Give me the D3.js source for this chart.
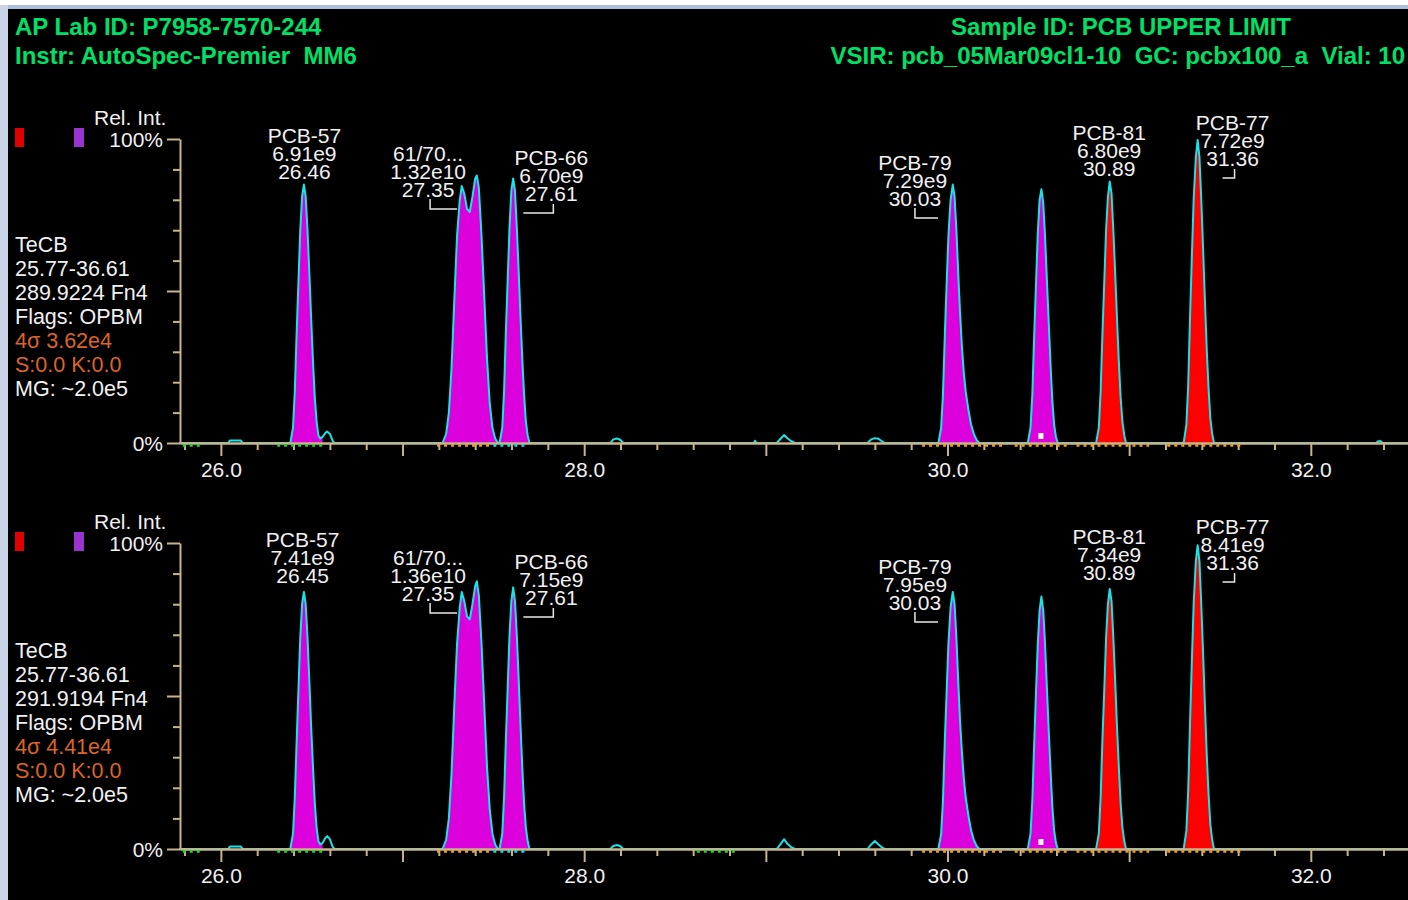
<!DOCTYPE html>
<html>
<head>
<meta charset="utf-8">
<script src="https://cdn.jsdelivr.net/npm/d3@7"></script>
<style>
body { margin: 0; background: #fff; overflow: hidden; }
svg { display: block; font-family: "Liberation Sans", Arial, sans-serif; }
text { white-space: pre; }
</style>
</head>
<body>
<div id="chart"></div>
<script>
const W = 1408, H = 900;

// header text
const headerLeft = ["AP Lab ID: P7958-7570-244", "Instr: AutoSpec-Premier  MM6"];
const headerRight = ["Sample ID: PCB UPPER LIMIT", "VSIR: pcb_05Mar09cl1-10  GC: pcbx100_a  Vial: 10"];

// side info for each trace
const infoTop = ["TeCB", "25.77-36.61", "289.9224 Fn4", "Flags: OPBM", "4σ 3.62e4", "S:0.0 K:0.0", "MG: ~2.0e5"];
const infoBottom = ["TeCB", "25.77-36.61", "291.9194 Fn4", "Flags: OPBM", "4σ 4.41e4", "S:0.0 K:0.0", "MG: ~2.0e5"];

// axis ticks
const xMajor = [26, 27, 28, 29, 30, 31, 32];
const xLabelVals = [26, 28, 30, 32];
const xLabels = ["26.0", "28.0", "30.0", "32.0"];
const yTickPct = [0, 10, 20, 30, 40, 50, 60, 70, 80, 90, 100];
const yLabelVals = [0, 100];
const yLabels = ["0%", "100%"];

// peak labels
const peakNames = ["PCB-57", "61/70...", "PCB-66", "PCB-79", "PCB-81", "PCB-77"];
const peakRtTop = [26.46, 27.35, 27.61, 30.03, 30.89, 31.36];
const peakAreaTop = ["6.91e9", "1.32e10", "6.70e9", "7.29e9", "6.80e9", "7.72e9"];
const peakRtBottom = [26.45, 27.35, 27.61, 30.03, 30.89, 31.36];
const peakAreaBottom = ["7.41e9", "1.36e10", "7.15e9", "7.95e9", "7.34e9", "8.41e9"];

// traces, [retention time (min), relative intensity %]
const traceTop = [
  [25.77, 0],
  [26.04, 0], [26.05, 0.8], [26.11, 0.8], [26.12, 0],
  [26.382, 0], [26.397, 5], [26.407, 17], [26.417, 36], [26.427, 53], [26.437, 70], [26.447, 81], [26.457, 85], [26.467, 81], [26.477, 70], [26.487, 56], [26.497, 41], [26.507, 27], [26.517, 15], [26.527, 7], [26.537, 2.5], [26.547, 1.5],
  [26.56, 2], [26.575, 3.3], [26.585, 3.8], [26.60, 3], [26.615, 0.8], [26.625, 0],
  [27.22, 0], [27.24, 3], [27.255, 10], [27.27, 25], [27.285, 47], [27.30, 68], [27.315, 80], [27.326, 84.5], [27.34, 82], [27.355, 77], [27.37, 76], [27.385, 81], [27.40, 87], [27.409, 88], [27.42, 84], [27.435, 68], [27.45, 48], [27.465, 28], [27.48, 13], [27.495, 5], [27.51, 1.5], [27.525, 0],
  [27.534, 0], [27.549, 5], [27.559, 17], [27.569, 37], [27.579, 54], [27.589, 71], [27.599, 83], [27.609, 87], [27.619, 83], [27.629, 71], [27.639, 57], [27.649, 42], [27.659, 28], [27.669, 16], [27.679, 7], [27.689, 2.5], [27.699, 0],
  [28.145, 0], [28.16, 1.2], [28.18, 1.5], [28.20, 1.0], [28.215, 0],
  [28.935, 0], [28.94, 0.7], [28.95, 0],
  [29.06, 0], [29.08, 1.3], [29.10, 2.6], [29.12, 1.5], [29.14, 0.6], [29.16, 0],
  [29.56, 0], [29.58, 1.2], [29.60, 1.6], [29.62, 1.4], [29.64, 0.5], [29.655, 0],
  [29.95, 0], [29.965, 5], [29.975, 16], [29.985, 35], [29.995, 52], [30.005, 68], [30.017, 80], [30.029, 85], [30.039, 81], [30.049, 70], [30.059, 56], [30.069, 43], [30.079, 32], [30.09, 23], [30.10, 17], [30.115, 11], [30.13, 6], [30.145, 3], [30.16, 1], [30.175, 0],
  [30.442, 0], [30.457, 5], [30.467, 16], [30.477, 35], [30.487, 52], [30.497, 69], [30.507, 80], [30.517, 83.5], [30.527, 79], [30.537, 68], [30.547, 54], [30.557, 40], [30.567, 26], [30.577, 14], [30.587, 6], [30.597, 2], [30.607, 0],
  [30.818, 0], [30.833, 5], [30.843, 17], [30.853, 36], [30.863, 53], [30.873, 70], [30.883, 81], [30.893, 86], [30.903, 82], [30.913, 70], [30.923, 56], [30.933, 41], [30.943, 27], [30.953, 15], [30.963, 7], [30.973, 2.5], [30.983, 0],
  [31.30, 0], [31.315, 6], [31.325, 19], [31.335, 41], [31.345, 61], [31.355, 80], [31.367, 94], [31.377, 99.7], [31.387, 94], [31.397, 80], [31.407, 64], [31.417, 47], [31.427, 31], [31.437, 18], [31.447, 8], [31.457, 3], [31.467, 0],
  [32.36, 0], [32.37, 0.6], [32.385, 0.6], [32.395, 0],
  [32.535, 0]
];

const traceBottom = [
  [25.77, 0],
  [26.04, 0], [26.05, 0.8], [26.11, 0.8], [26.12, 0],
  [26.382, 0], [26.397, 5], [26.407, 17], [26.417, 35], [26.427, 52], [26.437, 69], [26.447, 80], [26.457, 84], [26.467, 80], [26.477, 69], [26.487, 55], [26.497, 40], [26.507, 27], [26.517, 15], [26.527, 7], [26.537, 2.5], [26.547, 1.5],
  [26.56, 2], [26.575, 3.6], [26.585, 4.2], [26.60, 3.2], [26.615, 0.8], [26.625, 0],
  [27.22, 0], [27.24, 3], [27.255, 10], [27.27, 25], [27.285, 47], [27.30, 67], [27.315, 79], [27.326, 84], [27.34, 81], [27.355, 76], [27.37, 75], [27.385, 80], [27.40, 86], [27.409, 87.5], [27.42, 83], [27.435, 67], [27.45, 47], [27.465, 27], [27.48, 13], [27.495, 5], [27.51, 1.5], [27.525, 0],
  [27.534, 0], [27.549, 5], [27.559, 17], [27.569, 36], [27.579, 53], [27.589, 70], [27.599, 81], [27.609, 85.5], [27.619, 81], [27.629, 70], [27.639, 56], [27.649, 41], [27.659, 27], [27.669, 15], [27.679, 7], [27.689, 2.5], [27.699, 0],
  [28.145, 0], [28.16, 1.0], [28.18, 1.3], [28.20, 0.9], [28.215, 0],
  [29.06, 0], [29.08, 1.5], [29.10, 3.2], [29.12, 1.6], [29.14, 0.6], [29.16, 0],
  [29.56, 0], [29.58, 1.5], [29.60, 2.6], [29.62, 1.5], [29.64, 0.5], [29.655, 0],
  [29.95, 0], [29.965, 5], [29.975, 16], [29.985, 35], [29.995, 51], [30.005, 67], [30.017, 79], [30.029, 84], [30.039, 80], [30.049, 69], [30.059, 55], [30.069, 42], [30.079, 32], [30.09, 23], [30.10, 17], [30.115, 11], [30.13, 6], [30.145, 3], [30.16, 1], [30.175, 0],
  [30.442, 0], [30.457, 5], [30.467, 16], [30.477, 34], [30.487, 51], [30.497, 67], [30.507, 78], [30.517, 82.5], [30.527, 78], [30.537, 67], [30.547, 53], [30.557, 39], [30.567, 26], [30.577, 14], [30.587, 6], [30.597, 2], [30.607, 0],
  [30.818, 0], [30.833, 5], [30.843, 17], [30.853, 36], [30.863, 52], [30.873, 69], [30.883, 80], [30.893, 85], [30.903, 81], [30.913, 69], [30.923, 55], [30.933, 40], [30.943, 27], [30.953, 15], [30.963, 7], [30.973, 2.5], [30.983, 0],
  [31.30, 0], [31.315, 6], [31.325, 19], [31.335, 41], [31.345, 61], [31.355, 80], [31.367, 94], [31.377, 99.3], [31.387, 94], [31.397, 80], [31.407, 64], [31.417, 47], [31.427, 31], [31.437, 18], [31.447, 8], [31.457, 3], [31.467, 0],
  [32.535, 0]
];

// filled retention windows
const fillMagenta = [[26.382, 26.56], [27.22, 27.525], [27.534, 27.699], [29.95, 30.175], [30.442, 30.607]];
const fillRed = [[30.818, 30.983], [31.30, 31.467]];
const markerRt = [30.517];

// baseline marks [start, end, kind]
const baseMarksTop = [
  [25.79, 25.89, "g"], [26.31, 26.56, "g"], [27.19, 27.48, "o"], [27.50, 27.69, "c"],
  [29.86, 30.30, "o"], [30.37, 30.66, "o"], [30.71, 31.11, "o"], [31.21, 31.62, "o"]
];
const baseMarksBottom = [
  [25.79, 25.89, "g"], [26.31, 26.56, "g"], [27.19, 27.48, "o"], [27.50, 27.69, "c"], [28.62, 28.84, "g"],
  [29.86, 30.30, "o"], [30.37, 30.66, "o"], [30.71, 31.11, "o"], [31.21, 31.62, "o"]
];

const markColor = { g: "#22d822", o: "#f0a020", c: "#20d8e8" };
const TAN = "#c8b48c";
const TXT = "#f0f0f2";
const ORANGE = "#dc6428";
const GREEN = "#00e068";

// label layout: x shift from peak, baseline of last line below 100% line, bracket
const labelDx = [0, -38, 38, -38, 0, 38];
const labelLast = [40, 58, 62, 67, 37, 27];
const labelBracket = [null, ["L", 2, 29], ["R", -28, 2], ["L", 0, 23], null, ["R", -10, 2]];

const svg = d3.select("#chart").append("svg")
  .attr("width", W)
  .attr("height", H);

// window frame
svg.append("rect").attr("width", W).attr("height", H).attr("fill", "#fff");
svg.append("rect").attr("x", 0).attr("y", 5).attr("width", W).attr("height", 4).attr("fill", "#a9bfdc");
svg.append("rect").attr("x", 0).attr("y", 5).attr("width", 8).attr("height", H).attr("fill", "#c9d5e6");
svg.append("rect").attr("x", 8).attr("y", 9).attr("width", W - 8).attr("height", H - 9).attr("fill", "#000");

// header
svg.selectAll(".hl").data(headerLeft).enter().append("text")
  .attr("x", 15).attr("y", (d, i) => 35 + i * 29)
  .attr("fill", GREEN).attr("font-size", 24).attr("font-weight", "bold")
  .text(d => d);
svg.append("text").attr("x", 1121).attr("y", 35).attr("text-anchor", "middle")
  .attr("fill", GREEN).attr("font-size", 24).attr("font-weight", "bold").text(headerRight[0]);
svg.append("text").attr("x", 1405).attr("y", 64).attr("text-anchor", "end")
  .attr("fill", GREEN).attr("font-size", 24).attr("font-weight", "bold").text(headerRight[1]);

const x = d3.scaleLinear().domain([25.775, 32.535]).range([180, 1408]);
const minorTicks = d3.range(25.8, 32.45, 0.2).filter(t => Math.abs(t - Math.round(t)) > 0.01);

const panels = [
  { top: 139, bottom: 443, trace: traceTop, info: infoTop, rt: peakRtTop, area: peakAreaTop, marks: baseMarksTop },
  { top: 543, bottom: 849, trace: traceBottom, info: infoBottom, rt: peakRtBottom, area: peakAreaBottom, marks: baseMarksBottom }
];

panels.forEach(drawPanel);

function drawPanel(p) {
  const y = d3.scaleLinear().domain([0, 100]).range([p.bottom, p.top]);
  const g = svg.append("g");

  // legend squares
  g.append("rect").attr("x", 15).attr("y", p.top - 11).attr("width", 9).attr("height", 19).attr("fill", "#e00000");
  g.append("rect").attr("x", 74).attr("y", p.top - 11).attr("width", 10).attr("height", 19).attr("fill", "#9a34d0");

  g.append("text").attr("x", 94).attr("y", p.top - 14)
    .attr("fill", TXT).attr("font-size", 21).text("Rel. Int.");

  // side info
  g.selectAll(".info").data(p.info).enter().append("text")
    .attr("x", 15)
    .attr("y", (d, i) => p.bottom - 191 + i * 24)
    .attr("fill", (d, i) => (i === 4 || i === 5) ? ORANGE : TXT)
    .attr("font-size", 21.5)
    .text(d => d);

  // filled peaks
  const area = d3.area().x(d => x(d[0])).y0(y(0)).y1(d => y(d[1]));
  const fills = fillMagenta.map(r => [r, "#dc00dc"]).concat(fillRed.map(r => [r, "#ff0000"]));
  fills.forEach(([r, c]) => {
    const pts = p.trace.filter(d => d[0] >= r[0] - 1e-9 && d[0] <= r[1] + 1e-9);
    g.append("path").datum(pts).attr("d", area).attr("fill", c);
  });

  // trace outline
  const line = d3.line().x(d => x(d[0])).y(d => y(d[1]));
  g.append("path").datum(p.trace).attr("d", line)
    .attr("fill", "none").attr("stroke", "#18e4e8").attr("stroke-width", 2)
    .attr("stroke-linejoin", "round");

  // y axis
  const ya = g.append("g").attr("transform", "translate(180,0)")
    .call(d3.axisLeft(y).tickValues(yTickPct).tickSize(6).tickSizeOuter(0)
      .tickFormat(d => { const k = yLabelVals.indexOf(d); return k < 0 ? "" : yLabels[k]; }));
  ya.selectAll(".tick line").attr("x2", d => d % 50 === 0 ? -13 : -7);
  ya.selectAll(".tick text").attr("x", -17).attr("dy", 7);

  // x axis, minor and major ticks
  const xa1 = g.append("g").attr("transform", `translate(0,${p.bottom})`)
    .call(d3.axisBottom(x).tickValues(minorTicks).tickSize(7).tickSizeOuter(0).tickFormat(""));
  const xa2 = g.append("g").attr("transform", `translate(0,${p.bottom})`)
    .call(d3.axisBottom(x).tickValues(xMajor).tickSize(13).tickSizeOuter(0)
      .tickFormat(d => { const k = xLabelVals.indexOf(d); return k < 0 ? "" : xLabels[k]; }));
  xa2.selectAll(".tick text").attr("y", 34).attr("dy", 0);

  [ya, xa1, xa2].forEach(a => {
    a.attr("font-family", null).attr("font-size", 21);
    a.selectAll("path.domain").attr("stroke", TAN).attr("stroke-width", 2);
    a.selectAll(".tick line").attr("stroke", TAN).attr("stroke-width", 2);
    a.selectAll(".tick text").attr("fill", TXT);
  });

  // baseline marks
  g.selectAll(".bm").data(p.marks).enter().append("line")
    .attr("x1", d => x(d[0])).attr("x2", d => x(d[1]))
    .attr("y1", p.bottom + 2.5).attr("y2", p.bottom + 2.5)
    .attr("stroke", d => markColor[d[2]]).attr("stroke-width", 2.5)
    .attr("stroke-dasharray", "3,4");

  // small white marker
  g.selectAll(".mk").data(markerRt).enter().append("rect")
    .attr("x", d => x(d) - 3).attr("y", p.bottom - 10).attr("width", 5).attr("height", 6)
    .attr("fill", "#fff");

  // peak labels
  peakNames.forEach((name, i) => {
    const cx = x(p.rt[i]) + labelDx[i];
    const base = p.top + labelLast[i];
    const lines = [name, p.area[i], p.rt[i].toFixed(2)];
    g.selectAll(null).data(lines).enter().append("text")
      .attr("x", cx).attr("y", (d, k) => base - (2 - k) * 18)
      .attr("text-anchor", "middle").attr("fill", TXT).attr("font-size", 21)
      .text(d => d);
    const b = labelBracket[i];
    if (b) {
      const x1 = cx + b[1], x2 = cx + b[2];
      const d = b[0] === "L"
        ? `M${x1},${base + 2}V${base + 12}H${x2}`
        : `M${x1},${base + 12}H${x2}V${base + 3}`;
      g.append("path").attr("d", d).attr("fill", "none").attr("stroke", "#e8e8e8").attr("stroke-width", 1.5);
    }
  });
}
</script>
</body>
</html>
